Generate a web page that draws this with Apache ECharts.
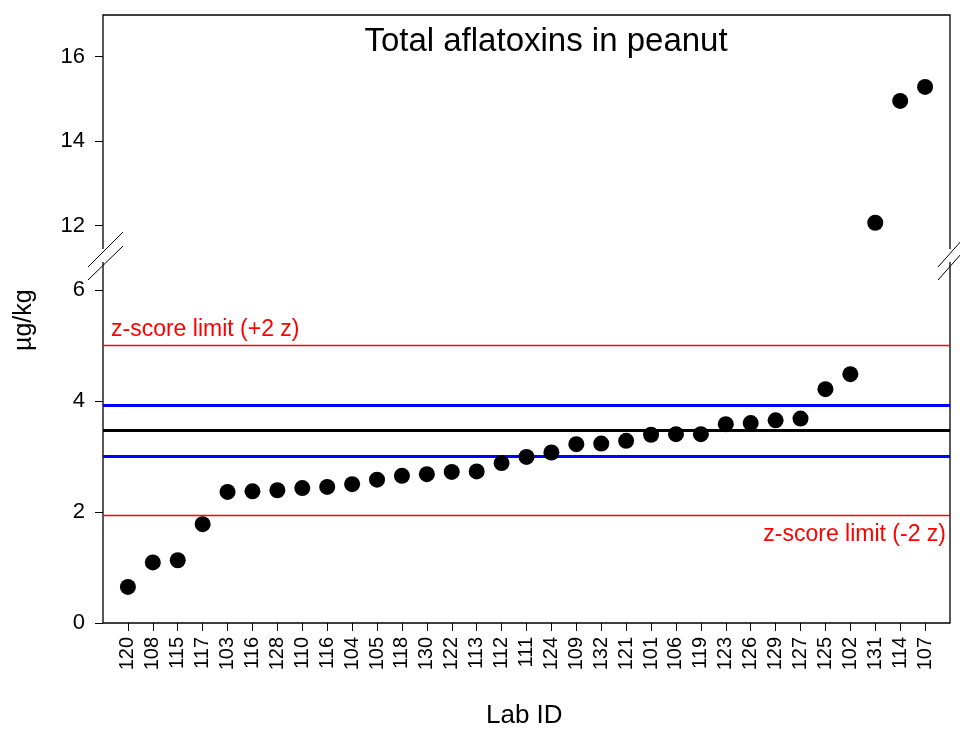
<!DOCTYPE html>
<html><head><meta charset="utf-8">
<script src="https://cdn.jsdelivr.net/npm/echarts@6/dist/echarts.min.js"></script>
<style>html,body{margin:0;padding:0;background:#fff}#c{width:960px;height:731px}</style>
</head><body><div id="c"></div>
<script>
const labIds = ['120','108','115','117','103','116','128','110','116','104','105','118','130','122','113','112','111','124','109','132','121','101','106','119','123','126','129','127','125','102','131','114','107'];
const values = [0.65,1.09,1.13,1.78,2.36,2.37,2.39,2.43,2.45,2.50,2.58,2.65,2.68,2.72,2.73,2.88,2.99,3.07,3.22,3.23,3.28,3.39,3.40,3.40,3.58,3.60,3.65,3.68,4.21,4.48,12.07,14.95,15.28];
const upperTicks = [12,14,16];
const lowerTicks = [0,2,4,6];
const zUpper = 5.0, zLower = 1.94, uncUpper = 3.92, uncLower = 3.01, assigned = 3.47;

const pts = values.map((v,i)=>[i+1,v]);
const lowPts = pts.filter(p=>p[1]<7);
const highPts = pts.filter(p=>p[1]>=7);
const idx = labIds.map((_,i)=>i+1);
const L=103,R=950,T=15,B=623,UB=249,LT=262;
const ff='Liberation Sans, Arial, sans-serif';
const chart = echarts.init(document.getElementById('c'));
chart.setOption({
  animation:false,
  title:{text:'Total aflatoxins in peanut',left:541,top:20,textAlign:'center',textStyle:{fontFamily:ff,fontSize:33,fontWeight:'normal',color:'#000'}},
  grid:[{left:L,right:960-R,top:T,height:UB-T,containLabel:false,outerBoundsMode:'none'},
        {left:L,right:960-R,top:LT,height:B-LT,containLabel:false,outerBoundsMode:'none'}],
  xAxis:[
    {gridIndex:0,type:'value',min:0,max:34,show:false},
    {gridIndex:1,type:'value',min:0,max:34,axisLine:{show:false},splitLine:{show:false},
     axisTick:{show:true,customValues:idx,length:8,lineStyle:{color:'#000'}},
     axisLabel:{customValues:idx,rotate:90,fontFamily:ff,fontSize:20,color:'#000',margin:14,formatter:v=>labIds[v-1]}}
  ],
  yAxis:[
    {gridIndex:0,type:'value',min:11.45,max:16.98,splitLine:{show:false},axisLine:{show:false},
     axisTick:{show:true,customValues:upperTicks,length:8,lineStyle:{color:'#000'}},
     axisLabel:{customValues:upperTicks,fontFamily:ff,fontSize:22,color:'#000',margin:18}},
    {gridIndex:1,type:'value',min:0,max:6.5,splitLine:{show:false},axisLine:{show:false},
     axisTick:{show:true,customValues:lowerTicks,length:8,lineStyle:{color:'#000'}},
     axisLabel:{customValues:lowerTicks,fontFamily:ff,fontSize:22,color:'#000',margin:18}}
  ],
  series:[
    {type:'scatter',xAxisIndex:0,yAxisIndex:0,data:highPts,symbolSize:16,itemStyle:{color:'#000',opacity:1}},
    {type:'scatter',xAxisIndex:1,yAxisIndex:1,data:lowPts,symbolSize:16,itemStyle:{color:'#000',opacity:1},z:5,
     markLine:{symbol:'none',silent:true,data:[
       {yAxis:zUpper,lineStyle:{color:'#ff0000',width:1.3,type:'solid',opacity:1},label:{show:true,position:'insideStartTop',formatter:'z-score limit (+2 z)',color:'#ff0000',fontFamily:ff,fontSize:23,distance:[8,4]}},
       {yAxis:zLower,lineStyle:{color:'#ff0000',width:1.3,type:'solid',opacity:1},label:{show:true,position:'insideEndBottom',formatter:'z-score limit (-2 z)',color:'#ff0000',fontFamily:ff,fontSize:23,distance:[4,8]}},
       {yAxis:uncUpper,lineStyle:{color:'#0000ff',width:3,type:'solid',opacity:1},label:{show:false}},
       {yAxis:uncLower,lineStyle:{color:'#0000ff',width:3,type:'solid',opacity:1},label:{show:false}},
       {yAxis:assigned,lineStyle:{color:'#000',width:3,type:'solid',opacity:1},label:{show:false}}
     ]}}
  ],
  graphic:[
    {type:'polyline',shape:{points:[[L,UB],[L,T],[R,T],[R,UB]]},style:{stroke:'#000',lineWidth:1.3,fill:null}},
    {type:'polyline',shape:{points:[[L,LT],[L,B],[R,B],[R,LT]]},style:{stroke:'#000',lineWidth:1.3,fill:null}},
    {type:'line',shape:{x1:L-15,y1:267,x2:L+20,y2:232},style:{stroke:'#000',lineWidth:1}},
    {type:'line',shape:{x1:L-15,y1:280,x2:L+20,y2:246},style:{stroke:'#000',lineWidth:1}},
    {type:'line',shape:{x1:R-12,y1:267,x2:R+12,y2:240},style:{stroke:'#000',lineWidth:1}},
    {type:'line',shape:{x1:R-12,y1:280,x2:R+12,y2:253},style:{stroke:'#000',lineWidth:1}},
    {type:'text',left:486,top:703,style:{text:'Lab ID',font:'26px '+ff,fill:'#000'}},
    {type:'text',x:12,y:351,rotation:Math.PI/2,style:{text:'µg/kg',font:'25px '+ff,fill:'#000'}}
  ]
});
</script></body></html>
